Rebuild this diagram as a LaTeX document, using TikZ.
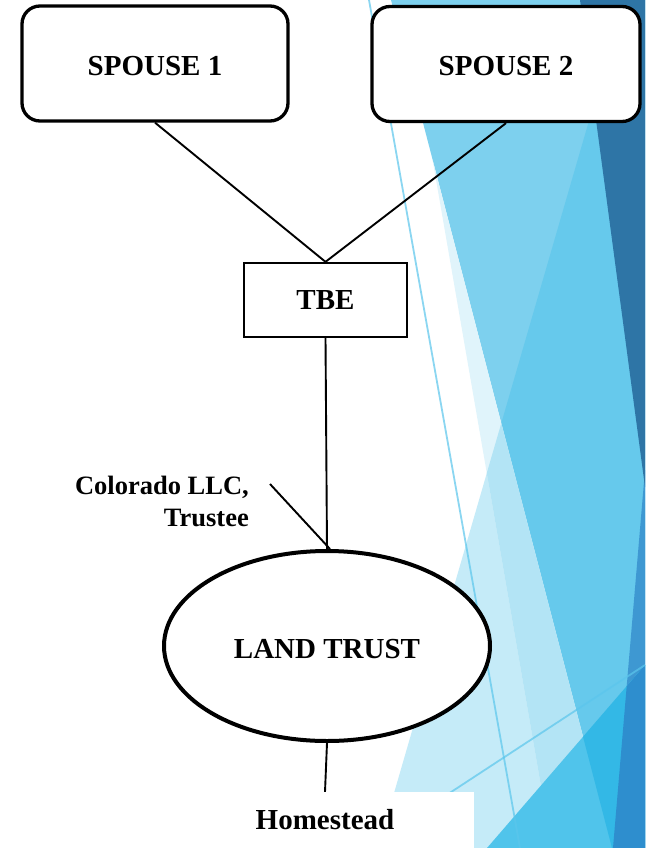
\documentclass[tikz,border=0pt]{standalone}
\usepackage{fontspec}
\setmainfont{Liberation Serif}
\usetikzlibrary{shapes.geometric}

% facet palette
\definecolor{facetTop}{HTML}{7DD0EE}
\definecolor{facetMid}{HTML}{66C9EC}
\definecolor{facetPale}{HTML}{C5EBF8}
\definecolor{facetWash}{HTML}{E0F4FB}
\definecolor{facetSoft}{HTML}{B3E4F5}
\definecolor{facetNavy}{HTML}{2E75A6}
\definecolor{facetEdge}{HTML}{3E98D2}
\definecolor{facetLow}{HTML}{50C4EB}
\definecolor{facetDeep}{HTML}{33B8E6}
\definecolor{facetCorner}{HTML}{2E8ECE}
\definecolor{facetLine}{HTML}{5BC6EC}

\tikzset{
  bigfont/.style={font=\fontsize{29}{34}\selectfont\bfseries},
  personbox/.style={draw, line width=3.3pt, fill=white, rounded corners=18pt,
    minimum width=266pt, minimum height=115pt, inner sep=0pt, bigfont,
    text height=24pt, text depth=0pt},
  tbebox/.style={draw, line width=2.3pt, fill=white,
    minimum width=163pt, minimum height=74pt, inner sep=0pt, bigfont},
  trustshape/.style={draw, ellipse, line width=4pt, fill=white,
    minimum width=326pt, minimum height=190pt, inner sep=0pt, bigfont,
    text height=24pt, text depth=0pt},
  plainbox/.style={fill=white, minimum width=298pt, minimum height=56pt,
    inner sep=0pt, bigfont},
  link/.style={line width=1.9pt},
  thinfacet/.style={line width=1.8pt, draw=facetLine, opacity=0.7}
}

\begin{document}
\begin{tikzpicture}[x=1pt, y=-1pt]
\useasboundingbox (0,0) rectangle (645,848);
\fill[white] (0,0) rectangle (645,848);

% background facets
\fill[facetPale] (624,0) -- (645,0) -- (645,848) -- (378.1,848) -- cycle;
\fill[facetTop] (391,0) -- (645,0) -- (645,848) -- (612,848) -- cycle;
\fill[facetMid] (624,0) -- (645,0) -- (645,848) -- (612,848) -- (501.3,423.2) -- cycle;
\fill[facetWash] (432.6,159.8) -- (551.7,848) -- (612,848) -- cycle;
\fill[facetSoft] (501.3,423.2) -- (486.8,473) -- (551.7,848) -- (612,848) -- cycle;
\fill[facetEdge] (645,470) -- (645,848) -- (613,848) -- cycle;
\fill[facetNavy] (580,0) -- (645,0) -- (645,487) -- cycle;
\begin{scope}
  \clip (645,665) -- (645,848) -- (487,848) -- cycle;
  \fill[facetLow] (487,665) rectangle (645,848);
  \fill[facetDeep] (391,0) -- (645,0) -- (645,848) -- (612,848) -- cycle;
  \fill[facetCorner] (645,470) -- (645,848) -- (613,848) -- cycle;
\end{scope}
\draw[thinfacet] (369,0) -- (520,848);
\draw[thinfacet] (645,665) -- (400,825.5);

% chart nodes
\node[personbox] (s1) at (155,63.5) {SPOUSE 1};
\node[personbox, minimum width=268pt] (s2) at (506,64) {SPOUSE 2};
\node[tbebox] (tbe) at (325.5,300) {TBE};
\node[trustshape] (land) at (327,646) {LAND TRUST};
\node[plainbox] (home) at (325,820) {Homestead};
\node[anchor=north east, align=right, inner sep=0pt,
      font=\fontsize{26.5}{32}\selectfont\bfseries] (llc) at (249,476)
      {Colorado LLC,\\Trustee};
\coordinate (llcpt) at (270,484);

% connectors
\draw[link] (s1.south) -- (tbe.north);
\draw[link] (s2.south) -- (tbe.north);
\draw[link] (tbe.south) -- (land.north);
\draw[link] (land.south) -- (home.north);
\draw[link] (llcpt) -- ([xshift=3pt]land.north);
\end{tikzpicture}
\end{document}
